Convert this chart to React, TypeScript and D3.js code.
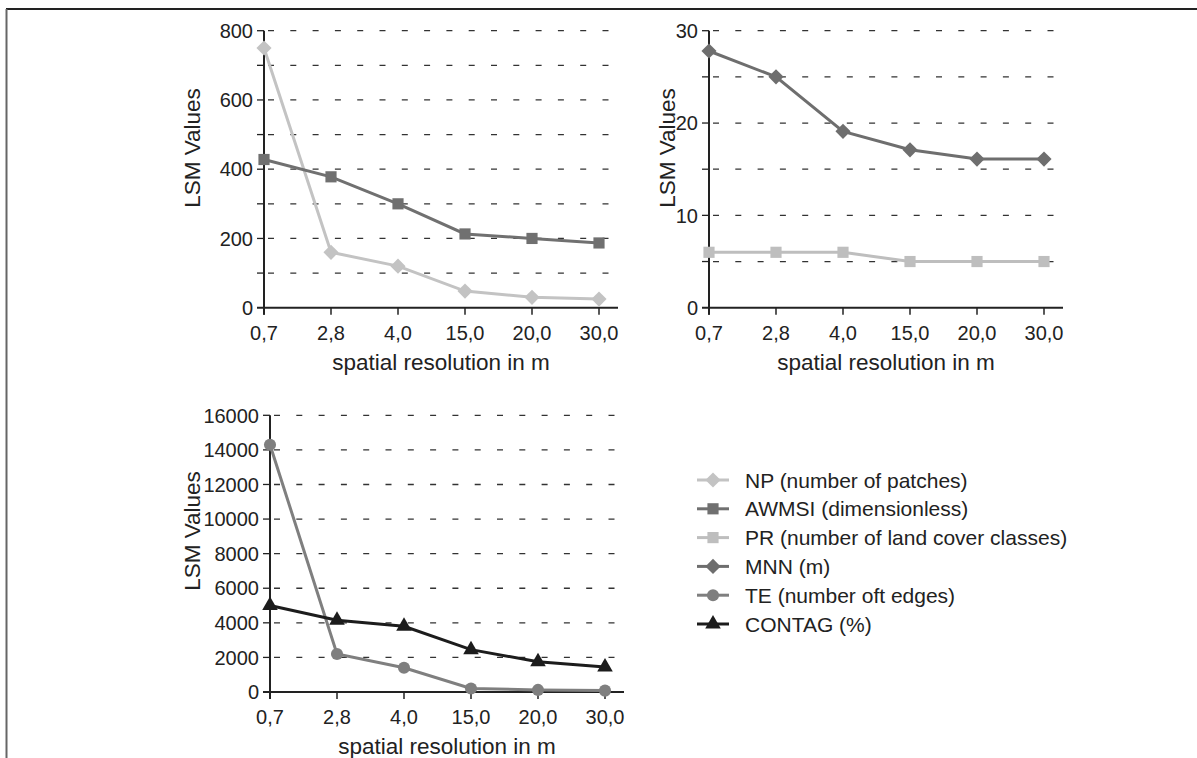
import * as d3 from "d3"

// shared x categories (spatial resolution)
const resolutions = ["0,7", "2,8", "4,0", "15,0", "20,0", "30,0"]

// series values
const npValues = [750, 160, 120, 48, 30, 25]
const awmsiValues = [428, 378, 300, 213, 200, 187]
const prValues = [6, 6, 6, 5, 5, 5]
const mnnValues = [27.8, 25, 19.1, 17.1, 16.1, 16.1]
const teValues = [14300, 2200, 1400, 200, 120, 80]
const contagValues = [5000, 4150, 3800, 2450, 1750, 1450]

const legendNames = [
  "NP (number of patches)",
  "AWMSI (dimensionless)",
  "PR (number of land cover classes)",
  "MNN (m)",
  "TE (number oft edges)",
  "CONTAG (%)",
]

const FONT = "'Liberation Sans', Arial, sans-serif"

const symbolPath = (kind: string) => {
  if (kind == "diamond") return d3.symbol(d3.symbolSquare, 115)()
  if (kind == "square") return d3.symbol(d3.symbolSquare, 125)()
  if (kind == "circle") return d3.symbol(d3.symbolCircle, 115)()
  return d3.symbol(d3.symbolTriangle, 105)()
}

const styles = [
  { color: "#c3c3c3", kind: "diamond" },
  { color: "#707070", kind: "square" },
  { color: "#bebebe", kind: "square" },
  { color: "#6e6e6e", kind: "diamond" },
  { color: "#7f7f7f", kind: "circle" },
  { color: "#1c1c1c", kind: "triangle" },
]

const Marker = ({ x, y, st }) => (
  <path
    d={symbolPath(st.kind)}
    fill={st.color}
    transform={`translate(${x},${y})${st.kind == "diamond" ? " rotate(45)" : ""}`}
  />
)

const Panel = ({ x0, yTop, yBottom, yMax, gridStep, labelStep, series, yLabelX, yLabelY, tickLabelY, titleY }) => {
  const xScale = d3.scalePoint().domain(resolutions).range([x0, x0 + 5 * 67]).padding(0)
  const yScale = d3.scaleLinear().domain([0, yMax]).range([yBottom, yTop])
  const axisEnd = x0 + 5 * 67 + 19
  const grid = d3.range(gridStep, yMax + gridStep / 2, gridStep)
  const labels = d3.range(0, yMax + labelStep / 2, labelStep)
  const line = d3.line<number>()
    .x((d, i) => xScale(resolutions[i]))
    .y((d) => yScale(d))

  return (
    <g>
      {grid.map((v) => (
        <g key={"g" + v}>
          <line x1={x0 - 7} x2={x0} y1={yScale(v)} y2={yScale(v)} stroke="#222" strokeWidth={1.3} />
          <line x1={x0 + 4} x2={axisEnd} y1={yScale(v)} y2={yScale(v)}
            stroke="#333" strokeWidth={1.3} strokeDasharray="6,16.3" />
        </g>
      ))}
      {labels.map((v) => (
        <text key={"l" + v} x={x0 - 11} y={yScale(v)} dy="0.36em" textAnchor="end"
          fontSize={20} fill="#222" fontFamily={FONT}>{v}</text>
      ))}
      <line x1={x0 - 7} x2={axisEnd} y1={yBottom} y2={yBottom} stroke="#222" strokeWidth={2} />
      <line x1={x0} x2={x0} y1={yTop} y2={yBottom + 7} stroke="#222" strokeWidth={2} />
      {resolutions.map((r) => (
        <g key={"x" + r}>
          <line x1={xScale(r)} x2={xScale(r)} y1={yBottom} y2={yBottom + 7} stroke="#222" strokeWidth={1.5} />
          <text x={xScale(r)} y={tickLabelY} dy="0.36em" textAnchor="middle"
            fontSize={20} fill="#222" fontFamily={FONT}>{r}</text>
        </g>
      ))}
      {series.map((s, si) => (
        <g key={"s" + si}>
          <path d={line(s.values)} fill="none" stroke={s.st.color} strokeWidth={3} />
          {s.values.map((v, i) => (
            <Marker key={i} x={xScale(resolutions[i])} y={yScale(v)} st={s.st} />
          ))}
        </g>
      ))}
      <text transform={`translate(${yLabelX},${yLabelY}) rotate(-90)`} dy="0.36em" textAnchor="middle"
        fontSize={22.5} fill="#222" fontFamily={FONT}>LSM Values</text>
      <text x={(x0 + axisEnd) / 2} y={titleY} dy="0.36em" textAnchor="middle"
        fontSize={22.5} fill="#222" fontFamily={FONT}>spatial resolution in m</text>
    </g>
  )
}

export default function App() {
  const width = 1197
  const height = 758
  const legendY = d3.scaleLinear().domain([0, 5]).range([480, 624])

  return (
    <svg width={width} height={height} style={{ position: "absolute", left: 0, top: 0, background: "#fff" }}>
      <rect width={width} height={height} fill="#fff" />
      <line x1={6} x2={width} y1={9} y2={9} stroke="#222" strokeWidth={2} />
      <line x1={6.5} x2={6.5} y1={9} y2={height} stroke="#666" strokeWidth={2} />

      <Panel x0={264} yTop={30.7} yBottom={307.7} yMax={800} gridStep={100} labelStep={200}
        series={[{ values: npValues, st: styles[0] }, { values: awmsiValues, st: styles[1] }]}
        yLabelX={192} yLabelY={148} tickLabelY={333} titleY={362} />

      <Panel x0={709} yTop={30.7} yBottom={307.7} yMax={30} gridStep={5} labelStep={10}
        series={[{ values: prValues, st: styles[2] }, { values: mnnValues, st: styles[3] }]}
        yLabelX={667} yLabelY={148} tickLabelY={333} titleY={362} />

      <Panel x0={270} yTop={415.3} yBottom={692} yMax={16000} gridStep={2000} labelStep={2000}
        series={[{ values: teValues, st: styles[4] }, { values: contagValues, st: styles[5] }]}
        yLabelX={192} yLabelY={531} tickLabelY={717} titleY={746} />

      {legendNames.map((name, i) => (
        <g key={name}>
          <line x1={697} x2={729} y1={legendY(i)} y2={legendY(i)} stroke={styles[i].color} strokeWidth={3} />
          <Marker x={713} y={legendY(i)} st={styles[i]} />
          <text x={745} y={legendY(i)} dy="0.36em" fontSize={21} fill="#222" fontFamily={FONT}>{name}</text>
        </g>
      ))}
    </svg>
  )
}
